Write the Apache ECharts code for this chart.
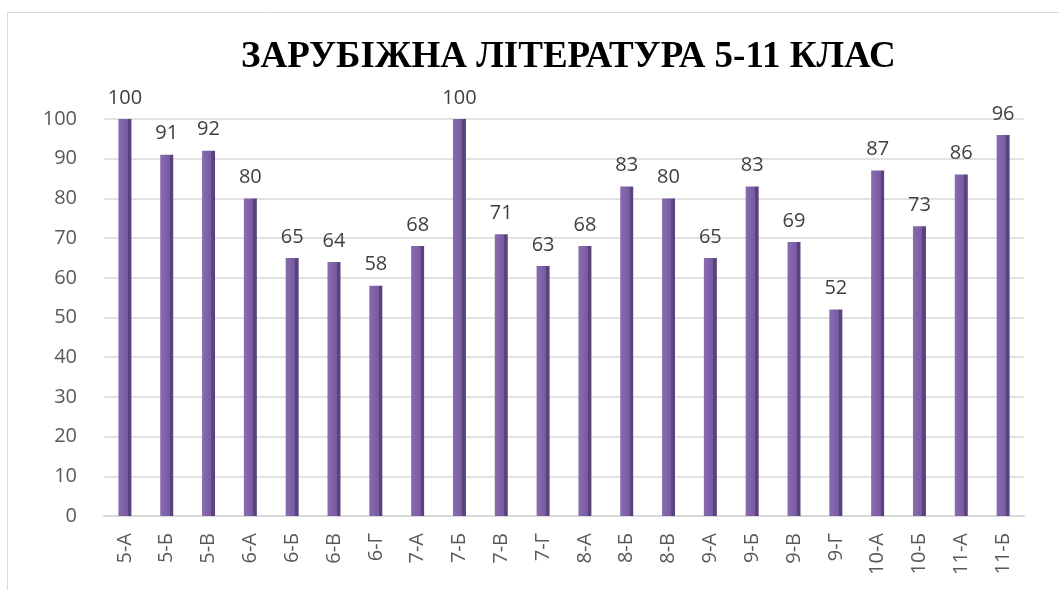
<!DOCTYPE html>
<html>
<head>
<meta charset="utf-8">
<script src="https://cdn.jsdelivr.net/npm/echarts@6/dist/echarts.min.js"></script>
<style>
html,body{margin:0;padding:0;background:#fff;}
#chart{width:1059px;height:590px;}
</style>
</head>
<body>
<div id="chart"></div>
<script>
const titleText = 'ЗАРУБІЖНА ЛІТЕРАТУРА 5-11 КЛАС';
const categories = ['5-А','5-Б','5-В','6-А','6-Б','6-В','6-Г','7-А','7-Б','7-В','7-Г','8-А','8-Б','8-В','9-А','9-Б','9-В','9-Г','10-А','10-Б','11-А','11-Б'];
const values = [100,91,92,80,65,64,58,68,100,71,63,68,83,80,65,83,69,52,87,73,86,96];
const yTicks = {min:0, max:100, interval:10};

const chart = echarts.init(document.getElementById('chart'), null, {renderer:'canvas'});
const barColor = new echarts.graphic.LinearGradient(0,0,1,0,[
  {offset:0, color:'#8a6db0'},
  {offset:0.72, color:'#7659a0'},
  {offset:0.73, color:'#5a427c'},
  {offset:1, color:'#5a427c'}
]);
chart.setOption({
  animation:false,
  backgroundColor:'#ffffff',
  graphic:[{
    type:'rect', silent:true, z:-10,
    shape:{x:7.5, y:12.5, width:1200, height:700},
    style:{fill:'none', stroke:'#d9d9d9', lineWidth:1}
  }],
  title:{
    text:titleText,
    left:236,
    top:34,
    textStyle:{fontFamily:'Liberation Serif', fontWeight:'bold', fontSize:37, color:'#000'}
  },
  grid:{left:104, right:35, top:119, bottom:74, containLabel:false},
  xAxis:{
    type:'category',
    data:categories,
    axisLine:{show:true, lineStyle:{color:'#d9d9d9', width:2}},
    axisTick:{show:false},
    axisLabel:{rotate:90, margin:17, fontSize:20, color:'#595959', fontFamily:'Open Sans', interval:0}
  },
  yAxis:{
    type:'value',
    min:yTicks.min, max:yTicks.max, interval:yTicks.interval,
    axisLine:{show:false},
    axisTick:{show:false},
    splitLine:{lineStyle:{color:'#d9d9d9', width:1.5}},
    axisLabel:{margin:27, fontSize:20, color:'#595959', fontFamily:'Open Sans'}
  },
  series:[{
    type:'bar',
    data:values,
    barWidth:13,
    itemStyle:{color:barColor},
    label:{show:true, position:'top', distance:11, fontSize:20, color:'#404040', fontFamily:'Open Sans'}
  }]
});
</script>
</body>
</html>
